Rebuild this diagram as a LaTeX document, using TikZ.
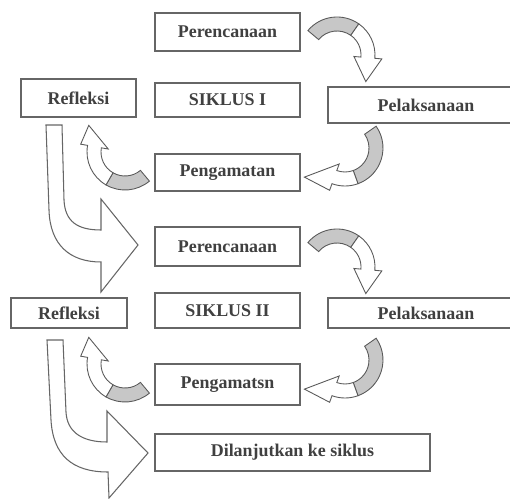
\documentclass[tikz,border=0pt]{standalone}
\usepackage{fontspec}
\setmainfont{Liberation Serif}
\usetikzlibrary{calc}

\begin{document}
\begin{tikzpicture}[x=0.02cm, y=-0.02cm,
  kotak/.style={draw=black!60, line width=0.7pt, fill=white, inner sep=0pt,
    text=black!75, font=\fontsize{10.2}{12}\selectfont\bfseries},
  punggung/.style={draw=black!65, line width=0.5pt, fill=black!22},
  muka/.style={draw=black!65, line width=0.5pt, fill=white},
  panah/.style={draw=black!60, line width=0.6pt, fill=white}]

 \useasboundingbox (0,0) rectangle (510,499);
 \clip (0,0) rectangle (510,499);

 %boxes
 \foreach \nm/\x/\y/\w/\h/\txt in {
      per1/227.5/32/145/38/Perencanaan,
      sik1/227.5/100/145/34/SIKLUS I,
      ref1/78.5/98/115/38/Refleksi,
      pel1/426/105/196/36/Pelaksanaan,
      pen1/227.5/172.5/145/37/Pengamatan,
      per2/227.5/246.5/145/39/Perencanaan,
      sik2/227.5/310.5/145/35/SIKLUS II,
      ref2/69/313/116/30/Refleksi,
      pel2/426/313/196/30/Pelaksanaan,
      pen2/227.5/384.5/145/41/Pengamatsn,
      lanjut/292.5/452.5/275/37/Dilanjutkan ke siklus} {
     \node[kotak, minimum width=\w*0.02cm, minimum height=\h*0.02cm] (\nm) at (\x,\y) {\txt};
 }

 %curved arrows (grey back, white front with head)
 \foreach \cx/\cy/\ta/\tb/\tc/\hd/\hl in {
      337/55/220/305/365/95/24,  345/148/-35/70/110/180/30,  125/152/50/120/190/255/22,
      337/267/220/305/365/95/24, 345/360/-35/70/110/180/30,  125/364/50/120/190/255/22} {
     \draw[punggung] ($(\cx,\cy)+(\ta:38)$) arc[start angle=\ta, end angle=\tb, radius=38]
        -- ($(\cx,\cy)+(\tb:24)$) arc[start angle=\tb, end angle=\ta, radius=24] -- cycle;
     \draw[muka] ($(\cx,\cy)+(\tb:38)$) arc[start angle=\tb, end angle=\tc, radius=38]
        -- ($(\cx,\cy)+(\tc:45)$) -- ($(\cx,\cy)+(\tc:31)+(\hd:\hl)$) -- ($(\cx,\cy)+(\tc:17)$)
        -- ($(\cx,\cy)+(\tc:24)$) arc[start angle=\tc, end angle=\tb, radius=24] -- cycle;
 }

 %big arrow to siklus 2
 \draw[panah] (46,125) -- (62,125) -- (64,200) .. controls (65,222) and (78,230) .. (101,230)
    -- (101,199) -- (138,245) -- (101,292) -- (101,262) .. controls (70,262) and (50,245) .. (49,210) -- cycle;

 %big arrow to next cycle
 \draw[panah] (47,340) -- (63,340) -- (66,412) .. controls (67,432) and (82,442) .. (107,442)
    -- (107,411) -- (148,453) -- (109,498) -- (108,472) .. controls (72,472) and (53,455) .. (51,420) -- cycle;

\end{tikzpicture}
\end{document}
